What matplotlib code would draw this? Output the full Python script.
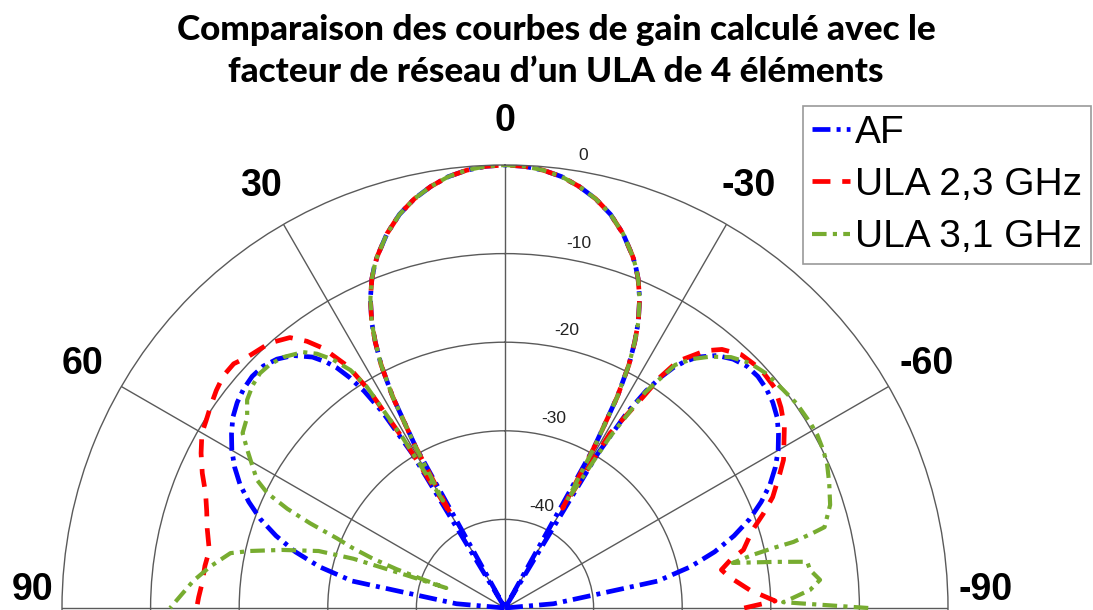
import numpy as np
import matplotlib
matplotlib.use("Agg")
import matplotlib.pyplot as plt

# angles in degrees (0 = broadside, positive to the left), gain in dB
af_deg = [-90, -85, -80, -77.5, -75, -72.5, -70, -67.5, -65, -62.5, -60, -57.5, -55,
          -52.5, -50, -47.5, -45, -42.5, -40, -37.5, -36, -35, -34, -33, -32, -31,
          -30, -29, -28, -27, -26, -25, -23.5, -22, -21, -20, -17.5, -15, -12.5,
          -10, -7.5, -5, -2.5, 0, 2.5, 5, 7.5, 10, 12.5, 15, 17.5, 20, 21, 22,
          23.5, 25, 26, 27, 28, 29, 30, 31, 32, 33, 34, 35, 36, 37.5, 40, 42.5,
          45, 47.5, 50, 52.5, 55, 57.5, 60, 62.5, 65, 67.5, 70, 72.5, 75, 77.5,
          80, 85, 90]
af_db = [-50, -44.5, -32.5, -28.6, -25.5, -22.9, -20.6, -18.7, -17.0, -15.6, -14.4, -13.4, -12.5,
         -11.9, -11.5, -11.3, -11.4, -11.9, -12.8, -14.3, -15.7, -16.9, -18.6, -20.8, -24.0, -29.7,
         -50, -29.2, -23.0, -19.2, -16.6, -14.4, -11.9, -9.9, -8.8, -7.8, -5.7, -4.0, -2.7,
         -1.7, -0.9, -0.4, -0.1, 0, -0.1, -0.4, -0.9, -1.7, -2.7, -4.0, -5.7, -7.8, -8.8, -9.9,
         -11.9, -14.4, -16.6, -19.2, -23.0, -29.2, -50, -29.7, -24.0, -20.8, -18.6, -16.9, -15.7, -14.3, -12.8, -11.9,
         -11.4, -11.3, -11.5, -11.9, -12.5, -13.4, -14.4, -15.6, -17.0, -18.7, -20.6, -22.9, -25.5, -28.6,
         -32.5, -44.5, -50]

ula23_deg = [-90, -88.5, -85.8, -82, -80, -78, -76.3, -72.5, -70, -67.5,
             -64, -62, -57, -54, -50.8, -47, -43, -40, -37.9, -35, -33.9,
             -33.2, -31, -30, -29, -28, -27, -26, -25, -23.5, -22, -21, -20, -17.5, -15, -12.5,
             -10, -7.5, -5, -2.5, 0, 2.5, 5, 7.5, 10, 12.5, 15, 17.5, 20, 21, 22, 23.5, 25, 26, 27,
             28, 29, 30, 31, 32, 33, 35, 36.6, 38.5, 41.6,
             45.8, 48, 50.5, 53, 55.5, 58, 60, 63, 66, 69, 72, 75,
             79, 82, 85.3, 88, 90]
ula23_db = [-23, -19.5, -22.3, -24.5, -25.2, -24, -22.3, -20.7, -19, -17.3,
            -15.5, -14.4, -12.4, -11.5, -10.7, -10.5, -10.9, -11.9, -13.2, -16, -18.6,
            -21.5, -27, -37, -29, -23.0, -19.2, -16.6, -14.4, -11.9, -9.9, -8.8, -7.8, -5.7, -4.0, -2.7,
            -1.7, -0.9, -0.4, -0.1, 0, -0.1, -0.4, -0.9, -1.7, -2.7, -4.0, -5.7, -7.8, -8.8, -9.9, -11.9, -14.4, -16.6, -19.2,
            -23.0, -29, -38, -28, -21, -17.5, -14.2, -12.5, -11.0, -10.0,
            -9.4, -8.8, -8.8, -9.2, -9.7, -10.2, -10.5, -11.5, -12.6, -13.8, -14.6, -15.2,
            -16.0, -15.8, -15.7, -15.4, -15.2]

ula31_deg = [-90, -88.8, -88, -86.6, -84.9, -82.9, -81.3, -80.3, -78.8, -77.9,
             -77.4, -77.1, -76.3, -75.8, -72.4, -69, -66, -63.6, -61, -58.8, -55, -51.9, -48, -45, -42,
             -39.2, -37, -35, -33, -31.5, -30, -29, -28, -27, -26, -25, -23.5, -22, -21,
             -20, -17.5, -15, -12.5, -10, -7.5, -5, -2.5, 0, 2.5, 5, 7.5, 10, 12.5, 15, 17.5, 20, 21, 22,
             23.5, 25, 26, 27, 28, 29, 30, 31, 32, 33, 34.7, 36.5, 38.3, 41.5, 44,
             46.2, 48.5, 51.1, 53.5, 56.3, 58.5, 60.5, 62.7, 64.2, 65.5, 66.5, 67.5,
             68.5, 69.5, 70.3, 70.8, 71.2, 71.6, 72, 73, 75.4, 77.4,
             78.7, 82, 85, 90]
ula31_db = [-9, -18.6, -17.5, -15.5, -14.3, -15.3, -15.5, -19.1, -23.8, -21.4,
            -19, -16.6, -14.2, -12.8, -11.5, -10.8, -10.2, -9.9, -9.7, -9.7, -9.8, -10.1, -10.4, -10.9, -11.9,
            -13.4, -14.8, -16.5, -21, -27.4, -36, -29, -23.0, -19.2, -16.6, -14.4, -11.9, -9.9, -8.8,
            -7.8, -5.7, -4.0, -2.7, -1.7, -0.9, -0.4, -0.1, 0, -0.1, -0.4, -0.9, -1.7, -2.7, -4.0, -5.7, -7.8, -8.8, -9.9,
            -11.9, -14.4, -16.6, -19.2, -23.0, -29, -36, -27.5, -20.5, -18.0, -15.9, -14.3, -13.2, -12.2, -11.8,
            -11.7, -12.0, -12.6, -13.8, -14.4, -15.9, -17.2, -18.5, -20.2, -23, -26, -29.5,
            -31.5, -34, -37, -40, -43, -38, -32, -28, -24, -20.5,
            -18.4, -16.4, -14.7, -12.2]

ring_levels = [0, -10, -20, -30, -40]
angle_ticks = [0, 30, 60, 90, -30, -60, -90]
angle_labels = ["0", "30", "60", "90", "-30", "-60", "-90"]

W, H = 1093, 610
fig = plt.figure(figsize=(W / 100, H / 100), dpi=100)

# polar axes centred at (505, 608) px, radius 443 px; lower half falls off the figure
cx, cy, R = 505, 608, 443
ax = fig.add_axes([(cx - R) / W, (H - cy - R) / H, 2 * R / W, 2 * R / H],
                  projection="polar")
ax.set_theta_zero_location("N")
ax.set_theta_direction(1)
ax.set_rlim(-50, 0)

grid_col = "#5a5a5a"
ax.set_rgrids([-40, -30, -20, -10], labels=[""] * 4)
ax.set_thetagrids([0, 30, 60, 90, 270, 300, 330], labels=[""] * 7)
ax.grid(True, color=grid_col, linewidth=1.0)
ax.spines["polar"].set_color(grid_col)
ax.spines["polar"].set_linewidth(1.0)

ax.plot(np.radians(af_deg), af_db, color="#0000ff", lw=3.4,
        dashes=(3.8, 1.3, 0.85, 1.3), label="AF")
ax.plot(np.radians(ula23_deg), ula23_db, color="#ff0000", lw=3.4,
        dashes=(3.8, 2.5), label="ULA 2,3 GHz")
ax.plot(np.radians(ula31_deg), ula31_db, color="#77ac30", lw=3.0,
        dashes=(3.5, 1.5, 1.0, 1.5), label="ULA 3,1 GHz")

# radial labels
for lv in ring_levels:
    ax.annotate(str(lv), xy=(np.radians(-8), lv), xytext=(12, 14),
                textcoords="offset pixels", ha="left", va="center",
                fontsize=12.5, family="Liberation Sans", color="#222222",
                annotation_clip=False)

# angle labels
for a, lab in zip(angle_ticks, angle_labels):
    off = (0, 0)
    if a == 90:
        off = (15, 18)
    elif a == -90:
        off = (-7, 18)
    ax.annotate(lab, xy=(np.radians(a), 5), xytext=off, textcoords="offset pixels",
                ha="center", va="center", fontsize=27, fontweight="bold",
                family="Liberation Sans", annotation_clip=False)

leg = ax.legend(loc="upper left", bbox_to_anchor=(803 / W, 1 - 106 / H),
                bbox_transform=fig.transFigure,
                prop={"family": "Liberation Sans", "size": 28},
                frameon=True, fancybox=False, borderpad=0.22, borderaxespad=0,
                handlelength=1.0, handletextpad=0.12, labelspacing=0.42)
leg.get_frame().set_edgecolor("#808080")
leg.get_frame().set_linewidth(1.2)

fig.text(556 / W, 1 - 51 / H,
         "Comparaison des courbes de gain calculé avec le\n"
         "facteur de réseau d\u2019un ULA de 4 éléments",
         ha="center", va="center", fontsize=25.3, fontweight="black",
         family="Lato", linespacing=1.35)

fig.savefig("out.png", dpi=100)
